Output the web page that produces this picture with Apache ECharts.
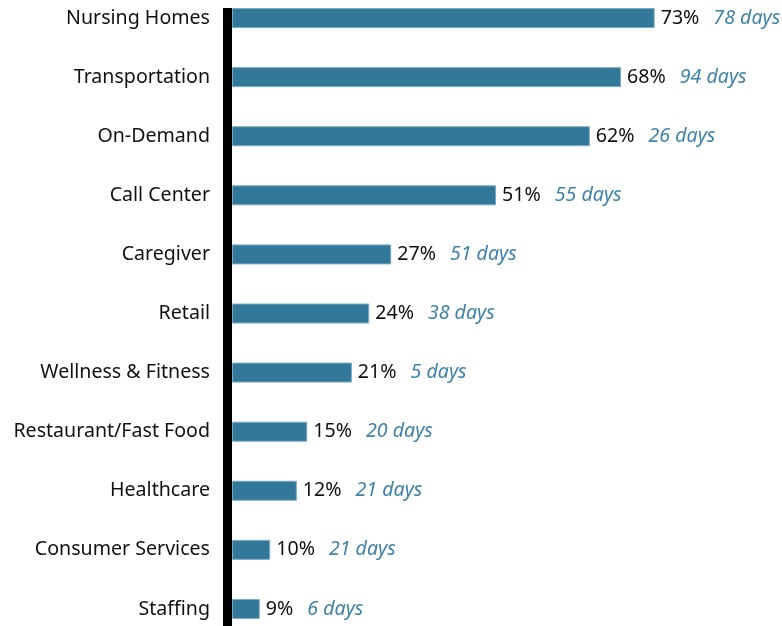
<!DOCTYPE html>
<html>
<head>
<meta charset="utf-8">
<script src="https://cdn.jsdelivr.net/npm/echarts@6/dist/echarts.min.js"></script>
<style>
  html, body { margin: 0; padding: 0; background: #fff; }
  #chart { width: 782px; height: 626px; }
</style>
</head>
<body>
<div id="chart"></div>
<script>
const categories = [
  'Nursing Homes', 'Transportation', 'On-Demand', 'Call Center', 'Caregiver',
  'Retail', 'Wellness & Fitness', 'Restaurant/Fast Food', 'Healthcare',
  'Consumer Services', 'Staffing'
];
// printed percentages
const shareLabels = [73, 68, 62, 51, 27, 24, 21, 15, 12, 10, 9];
// bar lengths as drawn in the picture (same % units)
const barLengths = [73, 67.2, 61.8, 45.6, 27.5, 23.7, 20.7, 13.0, 11.2, 6.6, 4.8];
const daysToHire = [78, 94, 26, 55, 51, 38, 5, 20, 21, 21, 6];

const font = '"Noto Sans", sans-serif';

const chart = echarts.init(document.getElementById('chart'));
chart.setOption({
  animation: false,
  grid: [
    { left: 232, right: 86.8, top: -11.5, height: 650, outerBoundsMode: 'none' },
    { left: 227.5, right: 86.8, top: 8, bottom: 0, outerBoundsMode: 'none' }
  ],
  xAxis: [
    { type: 'value', gridIndex: 0, min: 0, max: 80, show: false },
    { type: 'value', gridIndex: 1, min: 0, max: 80, show: false }
  ],
  yAxis: [
    {
      type: 'category',
      gridIndex: 0,
      inverse: true,
      data: categories,
      axisLine: { show: false },
      axisTick: { show: false },
      axisLabel: { margin: 22, fontSize: 19.6, color: '#111', fontFamily: font }
    },
    {
      type: 'category',
      gridIndex: 1,
      inverse: true,
      data: categories,
      axisLine: { show: true, lineStyle: { color: '#000', width: 9, cap: 'butt' } },
      axisTick: { show: false },
      axisLabel: { show: false }
    }
  ],
  series: [
    {
      type: 'bar',
      xAxisIndex: 0,
      yAxisIndex: 0,
      data: barLengths,
      barWidth: 20,
      itemStyle: { color: '#327999', borderColor: '#7eaac4', borderWidth: 1 },
      label: {
        show: true,
        position: 'right',
        distance: 6,
        formatter: p => '{p|' + shareLabels[p.dataIndex] + '%}{d|' + daysToHire[p.dataIndex] + ' days}',
        rich: {
          p: { fontSize: 19.6, color: '#111', fontFamily: font },
          d: { fontSize: 19.6, color: '#3f83a8', fontStyle: 'italic', fontFamily: font, padding: [0, 0, 0, 14] }
        }
      }
    }
  ]
});
</script>
</body>
</html>
